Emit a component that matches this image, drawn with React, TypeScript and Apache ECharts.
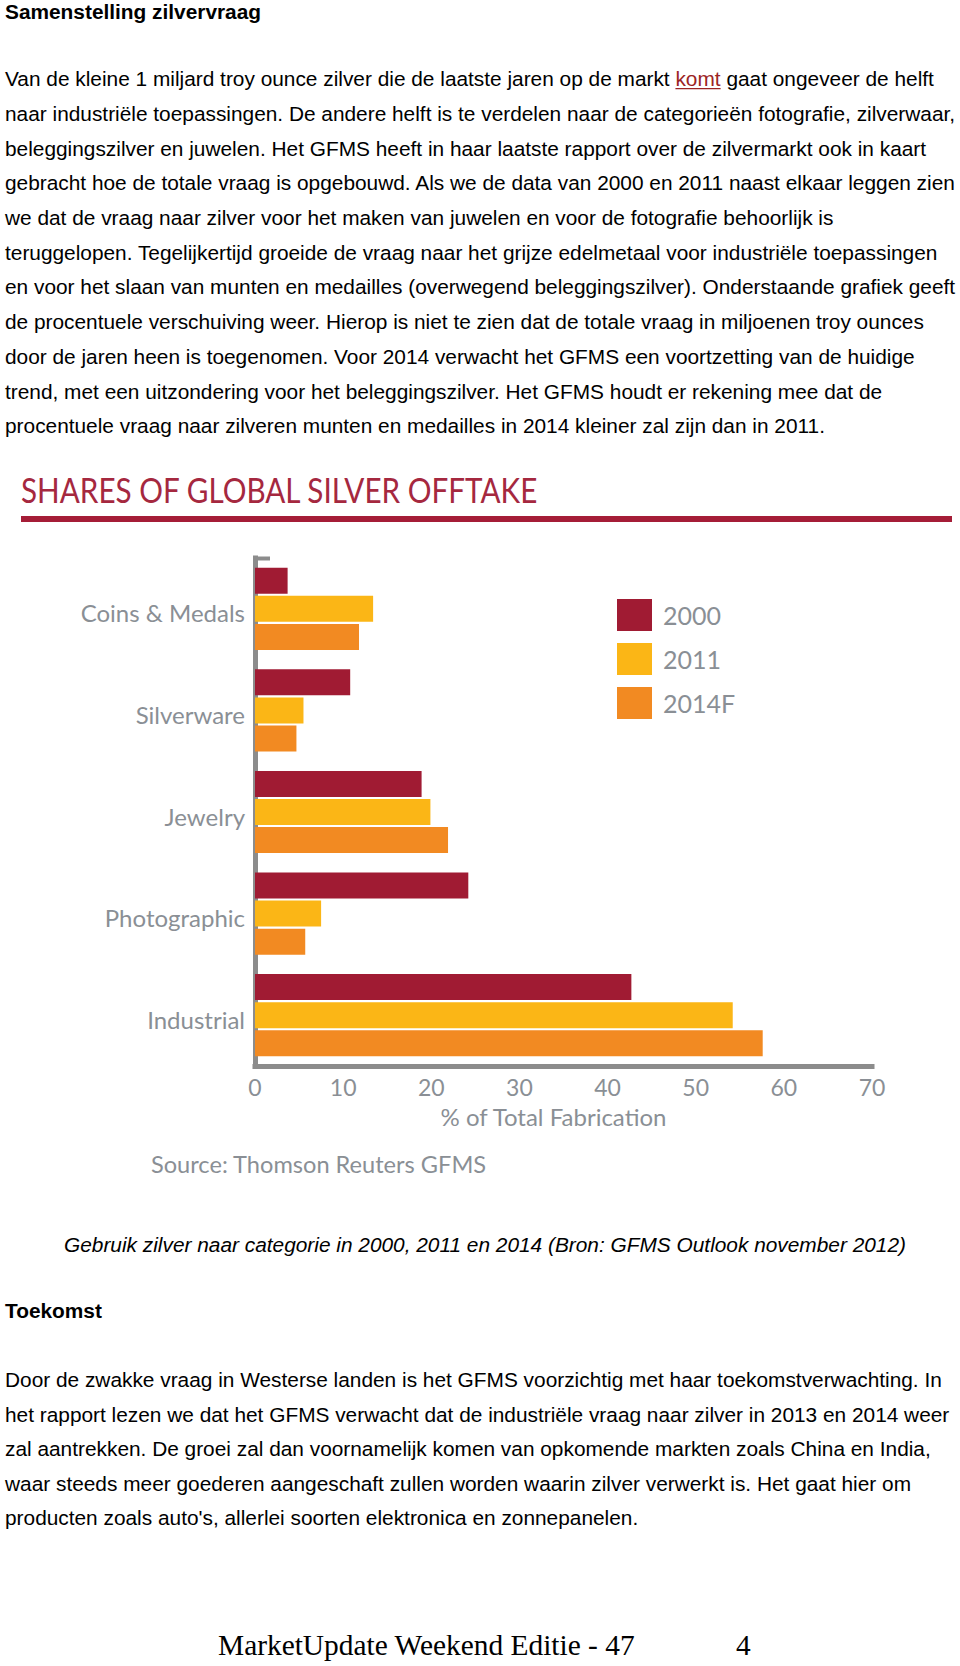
import React, { useEffect, useRef } from "react";
import * as echarts from "echarts";

// ---------- data ----------
const categories = ["Coins & Medals", "Silverware", "Jewelry", "Photographic", "Industrial"];
const seriesNames = ["2000", "2011", "2014F"];
const values2000 = [3.7, 10.8, 18.9, 24.2, 42.7];
const values2011 = [13.4, 5.5, 19.9, 7.5, 54.2];
const values2014F = [11.8, 4.7, 21.9, 5.7, 57.6];
const seriesValues = [values2000, values2011, values2014F];
const xMin = 0;
const xMax = 70;
const xInterval = 10;

// ---------- texts ----------
const chartTitle = "SHARES OF GLOBAL SILVER OFFTAKE";
const xAxisName = "% of Total Fabrication";
const sourceText = "Source: Thomson Reuters GFMS";
const heading1 = "Samenstelling zilvervraag";
const para1Line1Pre = "Van de kleine 1 miljard troy ounce zilver die de laatste jaren op de markt ";
const para1Link = "komt";
const para1Line1Post = " gaat ongeveer de helft";
const para1Rest = [
  "naar industriële toepassingen. De andere helft is te verdelen naar de categorieën fotografie, zilverwaar,",
  "beleggingszilver en juwelen. Het GFMS heeft in haar laatste rapport over de zilvermarkt ook in kaart",
  "gebracht hoe de totale vraag is opgebouwd. Als we de data van 2000 en 2011 naast elkaar leggen zien",
  "we dat de vraag naar zilver voor het maken van juwelen en voor de fotografie behoorlijk is",
  "teruggelopen. Tegelijkertijd groeide de vraag naar het grijze edelmetaal voor industriële toepassingen",
  "en voor het slaan van munten en medailles (overwegend beleggingszilver). Onderstaande grafiek geeft",
  "de procentuele verschuiving weer. Hierop is niet te zien dat de totale vraag in miljoenen troy ounces",
  "door de jaren heen is toegenomen. Voor 2014 verwacht het GFMS een voortzetting van de huidige",
  "trend, met een uitzondering voor het beleggingszilver. Het GFMS houdt er rekening mee dat de",
  "procentuele vraag naar zilveren munten en medailles in 2014 kleiner zal zijn dan in 2011.",
];
const caption = "Gebruik zilver naar categorie in 2000, 2011 en 2014 (Bron: GFMS Outlook november 2012)";
const heading2 = "Toekomst";
const para2 = [
  "Door de zwakke vraag in Westerse landen is het GFMS voorzichtig met haar toekomstverwachting. In",
  "het rapport lezen we dat het GFMS verwacht dat de industriële vraag naar zilver in 2013 en 2014 weer",
  "zal aantrekken. De groei zal dan voornamelijk komen van opkomende markten zoals China en India,",
  "waar steeds meer goederen aangeschaft zullen worden waarin zilver verwerkt is. Het gaat hier om",
  "producten zoals auto's, allerlei soorten elektronica en zonnepanelen.",
];
const footerText = "MarketUpdate Weekend Editie - 47";
const pageNumber = "4";

// ---------- styles ----------
const barColors = ["#a01b33", "#fbb616", "#f28a22"];
const axisGray = "#8c8c8c";
const labelGray = "#8a8f95";
const titleRed = "#a5283f";
const ruleRed = "#a51d37";
const bodyFont = '"Liberation Sans", Arial, sans-serif';
const bodySize = 20.85;
const chartFont = "Lato, sans-serif";

function measure(text: string, font: string): number {
  const c = document.createElement("canvas").getContext("2d");
  if (!c) return text.length * 10;
  c.font = font;
  return c.measureText(text).width;
}

function bodyText(text: string, x: number, y: number, extra: any = {}) {
  return {
    type: "text",
    x,
    y,
    silent: true,
    style: {
      text,
      fill: "#000",
      fontFamily: bodyFont,
      fontSize: bodySize,
      verticalAlign: "middle",
      align: "left",
      ...extra,
    },
  };
}

export default function App() {
  const ref = useRef<HTMLDivElement>(null);

  useEffect(() => {
    if (!ref.current) return;
    const chart = echarts.init(ref.current, null, { renderer: "svg" });

    const bodyFontCss = `${bodySize}px ${bodyFont}`;
    const preW = measure(para1Line1Pre, bodyFontCss);
    const linkW = measure(para1Link, bodyFontCss);

    const titleFontSize = 34;
    const titleW = measure(chartTitle, `${titleFontSize}px ${chartFont}`);
    const titleScale = 518 / titleW;

    const p1y0 = 78.6;
    const p1step = 34.72;
    const p2y0 = 1379.4;
    const p2step = 34.6;

    const graphics: any[] = [];
    graphics.push(bodyText(heading1, 5, 11, { fontWeight: "bold" }));
    graphics.push(bodyText(para1Line1Pre, 5, p1y0));
    graphics.push(bodyText(para1Link, 5 + preW, p1y0, { fill: "#9c2424" }));
    graphics.push({
      type: "line",
      silent: true,
      shape: { x1: 5 + preW, y1: p1y0 + 10, x2: 5 + preW + linkW, y2: p1y0 + 10 },
      style: { stroke: "#9c2424", lineWidth: 1.2 },
    });
    graphics.push(bodyText(para1Line1Post, 5 + preW + linkW, p1y0));
    para1Rest.forEach((line, i) => graphics.push(bodyText(line, 5, p1y0 + (i + 1) * p1step)));

    // chart title + rule
    graphics.push({
      type: "text",
      x: 21,
      y: 490,
      scaleX: titleScale,
      silent: true,
      style: {
        text: chartTitle,
        fill: titleRed,
        fontFamily: chartFont,
        fontSize: titleFontSize,
        verticalAlign: "middle",
        align: "left",
      },
    });
    graphics.push({
      type: "rect",
      silent: true,
      shape: { x: 21, y: 516, width: 931, height: 6 },
      style: { fill: ruleRed },
    });
    // top cap of the category axis
    graphics.push({
      type: "line",
      silent: true,
      shape: { x1: 253, y1: 558.5, x2: 270, y2: 558.5 },
      style: { stroke: axisGray, lineWidth: 4 },
    });
    graphics.push({
      type: "text",
      x: 151,
      y: 1164,
      silent: true,
      style: {
        text: sourceText,
        fill: labelGray,
        fontFamily: chartFont,
        fontSize: 23.6,
        verticalAlign: "middle",
        align: "left",
      },
    });

    graphics.push(bodyText(caption, 485, 1244.6, { fontStyle: "italic", align: "center" }));
    graphics.push(bodyText(heading2, 5, 1310, { fontWeight: "bold" }));
    para2.forEach((line, i) => graphics.push(bodyText(line, 5, p2y0 + i * p2step)));

    graphics.push({
      type: "text",
      x: 218,
      y: 1645,
      silent: true,
      style: {
        text: footerText,
        fill: "#000",
        fontFamily: '"Liberation Serif", serif',
        fontSize: 29.4,
        verticalAlign: "middle",
        align: "left",
      },
    });
    graphics.push({
      type: "text",
      x: 736,
      y: 1645,
      silent: true,
      style: {
        text: pageNumber,
        fill: "#000",
        fontFamily: '"Liberation Serif", serif',
        fontSize: 29.4,
        verticalAlign: "middle",
        align: "left",
      },
    });

    const option: any = {
      animation: false,
      backgroundColor: "#ffffff",
      grid: { left: 255, right: 88, top: 558, bottom: 600, containLabel: false },
      legend: {
        orient: "vertical",
        left: 617,
        top: 599,
        padding: 0,
        itemWidth: 35,
        itemHeight: 32,
        itemGap: 12,
        icon: "rect",
        data: seriesNames,
        selectedMode: false,
        textStyle: {
          fontFamily: chartFont,
          fontSize: 25,
          color: labelGray,
          padding: [0, 0, 0, 6],
        },
      },
      xAxis: {
        type: "value",
        min: xMin,
        max: xMax,
        interval: xInterval,
        name: xAxisName,
        nameLocation: "middle",
        nameGap: 38,
        nameTextStyle: {
          fontFamily: chartFont,
          fontSize: 24,
          color: labelGray,
          padding: [0, 20, 0, 0],
        },
        axisLine: { show: true, lineStyle: { color: axisGray, width: 5, cap: "square" } },
        axisTick: { show: false },
        splitLine: { show: false },
        axisLabel: { fontFamily: chartFont, fontSize: 23, color: labelGray, margin: 9 },
      },
      yAxis: {
        type: "category",
        data: categories,
        inverse: true,
        axisLine: { show: true, lineStyle: { color: axisGray, width: 5, cap: "square" } },
        axisTick: { show: false },
        splitLine: { show: false },
        axisLabel: {
          fontFamily: chartFont,
          fontSize: 24,
          color: labelGray,
          margin: 10,
          verticalAlign: "top",
          lineHeight: 8,
        },
      },
      series: seriesNames.map((name, i) => ({
        name,
        type: "bar",
        data: seriesValues[i],
        barWidth: 26,
        barGap: "8%",
        itemStyle: { color: barColors[i] },
        z: 3,
      })),
      graphic: { elements: graphics },
    };

    chart.setOption(option);
    return () => chart.dispose();
  }, []);

  return (
    <div style={{ position: "absolute", left: 0, top: 0, width: 960, height: 1666, background: "#fff" }}>
      <div ref={ref} style={{ width: 960, height: 1666 }} />
    </div>
  );
}
